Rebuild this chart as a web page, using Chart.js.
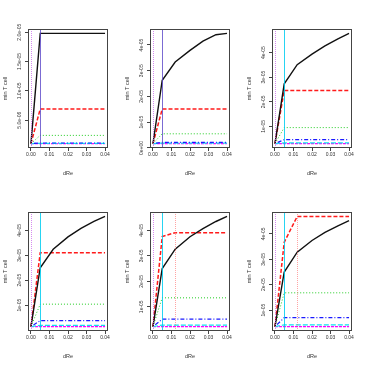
<!DOCTYPE html>
<html>
<head>
<meta charset="utf-8">
<script src="https://cdn.jsdelivr.net/npm/chart.js@4/dist/chart.umd.min.js"></script>
<style>
html, body { margin: 0; padding: 0; background: #fff; }
#wrap { width: 366px; height: 366px; display: flex; flex-wrap: wrap; }
canvas { display: block; }
</style>
</head>
<body>
<div id="wrap"></div>
<script>
// x values shared by every panel
const dRe = [0, 0.005, 0.012, 0.02, 0.027, 0.034, 0.04];

// min T cell, in units of 1e-6, one row per panel
const UNIT = 1e-6;
const blackLine   = [[1.0, 19.8, 19.8, 19.8, 19.8, 19.8, 19.8],
                     [1.7, 26.3, 33.4, 37.9, 41.5, 44.0, 44.5],
                     [3.0, 27.3, 35.1, 39.4, 42.7, 45.6, 47.8],
                     [1.4, 25.0, 32.4, 37.4, 40.8, 43.6, 45.6],
                     [2.2, 25.0, 32.6, 37.5, 40.7, 43.5, 45.5],
                     [3.5, 25.0, 32.8, 37.4, 40.6, 43.2, 45.2]];
const redLine     = [[1.0, 6.9, 6.9, 6.9, 6.9, 6.9, 6.9],
                     [1.7, 15.1, 15.1, 15.1, 15.1, 15.1, 15.1],
                     [3.0, 24.6, 24.6, 24.6, 24.6, 24.6, 24.6],
                     [1.4, 31.0, 31.0, 31.0, 31.0, 31.0, 31.0],
                     [2.2, 37.6, 39.1, 39.1, 39.1, 39.1, 39.1],
                     [3.5, 36.7, 46.9, 46.9, 46.9, 46.9, 46.9]];
const greenLine   = [[1.0, 2.4, 2.4, 2.4, 2.4, 2.4, 2.4],
                     [1.7, 5.5, 5.5, 5.5, 5.5, 5.5, 5.5],
                     [3.0, 9.5, 9.5, 9.5, 9.5, 9.5, 9.5],
                     [1.4, 10.4, 10.4, 10.4, 10.4, 10.4, 10.4],
                     [2.2, 13.5, 13.5, 13.5, 13.5, 13.5, 13.5],
                     [3.5, 16.8, 16.8, 16.8, 16.8, 16.8, 16.8]];
const blueLine    = [[1.0, 1.1, 1.1, 1.1, 1.1, 1.1, 1.1],
                     [1.7, 2.2, 2.2, 2.2, 2.2, 2.2, 2.2],
                     [3.0, 4.6, 4.6, 4.6, 4.6, 4.6, 4.6],
                     [1.4, 3.8, 3.8, 3.8, 3.8, 3.8, 3.8],
                     [2.2, 5.1, 5.1, 5.1, 5.1, 5.1, 5.1],
                     [3.5, 7.0, 7.0, 7.0, 7.0, 7.0, 7.0]];
const cyanLine    = [[1.0, 1.05, 1.05, 1.05, 1.05, 1.05, 1.05],
                     [1.7, 1.9, 1.9, 1.9, 1.9, 1.9, 1.9],
                     [3.0, 3.3, 3.3, 3.3, 3.3, 3.3, 3.3],
                     [1.4, 1.9, 1.9, 1.9, 1.9, 1.9, 1.9],
                     [2.2, 2.8, 2.8, 2.8, 2.8, 2.8, 2.8],
                     [3.5, 4.2, 4.2, 4.2, 4.2, 4.2, 4.2]];
const magentaLine = [[1.0, 1.0, 1.0, 1.0, 1.0, 1.0, 1.0],
                     [1.7, 1.7, 1.7, 1.7, 1.7, 1.7, 1.7],
                     [3.0, 3.0, 3.0, 3.0, 3.0, 3.0, 3.0],
                     [1.4, 1.4, 1.4, 1.4, 1.4, 1.4, 1.4],
                     [2.2, 2.2, 2.2, 2.2, 2.2, 2.2, 2.2],
                     [3.5, 3.5, 3.5, 3.5, 3.5, 3.5, 3.5]];

// threshold lines (dRe) per panel
const vLines = [[0, 0.005], [0, 0.005], [0, 0.005], [0, 0.005], [0, 0.005, 0.012], [0, 0.005, 0.012]];

const xTicks = [0, 0.01, 0.02, 0.03, 0.04];
const xTickLabels = ['0.00', '0.01', '0.02', '0.03', '0.04'];
const yTicks = [[5e-6, 1e-5, 1.5e-5, 2e-5],
                [0, 1e-5, 2e-5, 3e-5, 4e-5],
                [1e-5, 2e-5, 3e-5, 4e-5],
                [1e-5, 2e-5, 3e-5, 4e-5],
                [1e-5, 2e-5, 3e-5, 4e-5],
                [1e-5, 2e-5, 3e-5, 4e-5]];
const yTickLabels = [['5.0e-06', '1.0e-05', '1.5e-05', '2.0e-05'],
                     ['0e+00', '1e-05', '2e-05', '3e-05', '4e-05'],
                     ['1e-05', '2e-05', '3e-05', '4e-05'],
                     ['1e-05', '2e-05', '3e-05', '4e-05'],
                     ['1e-05', '2e-05', '3e-05', '4e-05'],
                     ['1e-05', '2e-05', '3e-05', '4e-05']];

// styles
const seriesStyle = [
  { data: blackLine,   color: '#111111', dash: [],           width: 1.4 },
  { data: redLine,     color: '#ff1a1a', dash: [4, 2],       width: 1.5 },
  { data: greenLine,   color: '#22cc22', dash: [1, 2],       width: 1 },
  { data: blueLine,    color: '#1a1aff', dash: [1, 2, 4, 2], width: 1.2 },
  { data: cyanLine,    color: '#10e0f0', dash: [5, 2],       width: 1.2 },
  { data: magentaLine, color: '#ff00ff', dash: [3, 1],       width: 1.1 }
];
const vLineStyle = {
  0: { color: 'rgba(200,100,235,0.75)', dash: [1, 1] },
  0.005: { color: 'rgba(0,205,240,0.85)', dash: [] },
  0.012: { color: 'rgba(255,90,90,0.55)', dash: [1, 1] }
};
const earlyVColour = 'rgba(90,70,200,0.8)';

const FONT = '"Liberation Sans", Arial, sans-serif';
const wrap = document.getElementById('wrap');

for (let p = 0; p < 6; p++) {
  const canvas = document.createElement('canvas');
  canvas.width = 122;
  canvas.height = 183;
  wrap.appendChild(canvas);

  const datasets = seriesStyle.map(s => ({
    data: dRe.map((x, i) => ({ x: x, y: s.data[p][i] * UNIT })),
    borderColor: s.color,
    borderDash: s.dash,
    borderWidth: s.width,
    pointRadius: 0,
    tension: 0,
    fill: false
  }));

  // R style axis limits: data range padded by 4%
  const all = seriesStyle.flatMap(s => s.data[p]);
  const lo = Math.min(...all) * UNIT, hi = Math.max(...all) * UNIT;
  const pad = (hi - lo) * 0.04;

  const frame = {
    id: 'frame' + p,
    afterDatasetsDraw(chart) {
      const { ctx, chartArea: a, scales: { x, y } } = chart;
      ctx.save();
      vLines[p].forEach(v => {
        const st = vLineStyle[v];
        let col = st.color;
        if (v === 0.005 && p < 2) col = earlyVColour;
        const px = Math.round(x.getPixelForValue(v)) + 0.5;
        ctx.strokeStyle = col;
        ctx.lineWidth = 1;
        ctx.setLineDash(p < 2 && v === 0.005 ? [] : st.dash);
        ctx.beginPath();
        ctx.moveTo(px, a.top);
        ctx.lineTo(px, a.bottom);
        ctx.stroke();
      });
      ctx.setLineDash([]);
      ctx.strokeStyle = '#444';
      ctx.lineWidth = 1;
      ctx.strokeRect(a.left + 0.5, a.top + 0.5, a.right - a.left - 1, a.bottom - a.top - 1);

      ctx.fillStyle = '#333';
      ctx.font = '5px ' + FONT;
      ctx.textAlign = 'center';
      ctx.textBaseline = 'middle';
      yTicks[p].forEach((v, i) => {
        ctx.save();
        ctx.translate(20, y.getPixelForValue(v));
        ctx.rotate(-Math.PI / 2);
        ctx.fillText(yTickLabels[p][i], 0, 0);
        ctx.restore();
      });
      ctx.font = '5.5px ' + FONT;
      ctx.fillText('dRe', (a.left + a.right) / 2, 173);
      ctx.save();
      ctx.translate(5, (a.top + a.bottom) / 2);
      ctx.rotate(-Math.PI / 2);
      ctx.fillText('min T cell', 0, 0);
      ctx.restore();
      ctx.restore();
    }
  };

  new Chart(canvas, {
    type: 'line',
    data: { datasets: datasets },
    options: {
      responsive: false,
      animation: false,
      devicePixelRatio: 1,
      layout: { padding: { top: 29, right: 14, left: 0, bottom: 0 } },
      plugins: { legend: { display: false }, tooltip: { enabled: false } },
      scales: {
        x: {
          type: 'linear',
          min: -0.0016,
          max: 0.0416,
          afterBuildTicks: s => { s.ticks = xTicks.map(v => ({ value: v })); },
          afterFit: s => { s.height = 35; },
          ticks: {
            autoSkip: false,
            maxRotation: 0,
            padding: 1,
            color: '#333',
            font: { size: 5, family: FONT },
            callback: v => xTickLabels[xTicks.indexOf(v)]
          },
          grid: { drawOnChartArea: false, tickLength: 3, color: '#444' },
          border: { display: false }
        },
        y: {
          type: 'linear',
          min: lo - pad,
          max: hi + pad,
          afterBuildTicks: s => { s.ticks = yTicks[p].map(v => ({ value: v })); },
          afterFit: s => { s.width = 28; },
          ticks: { display: false },
          grid: { drawOnChartArea: false, tickLength: 3, color: '#444' },
          border: { display: false }
        }
      }
    },
    plugins: [frame]
  });
}
</script>
</body>
</html>
